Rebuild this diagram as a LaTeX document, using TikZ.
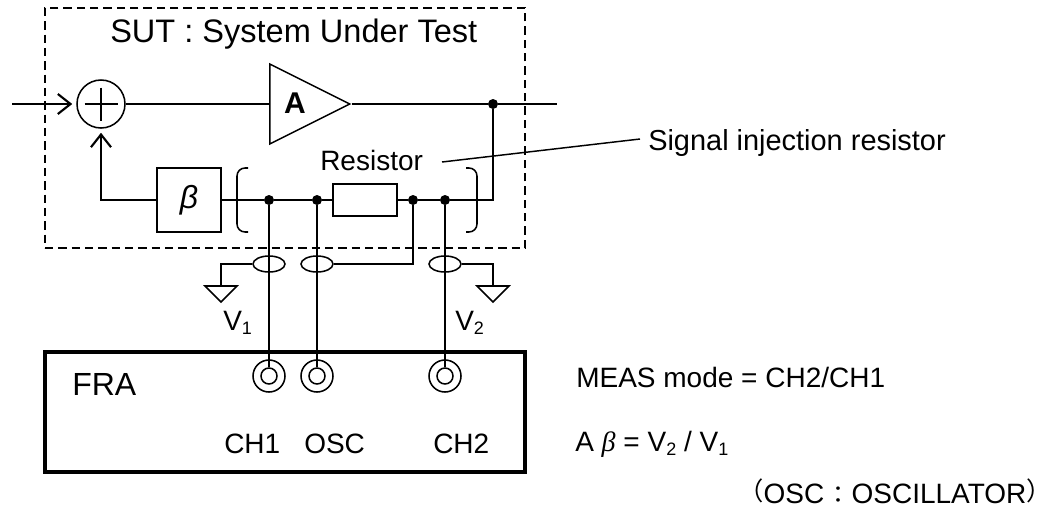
\documentclass[tikz,border=0pt]{standalone}
\usepackage{fontspec}
\setmainfont{Liberation Sans}
\newfontfamily\cjkfont{Noto Sans CJK JP}
\newfontfamily\serifgreek{Liberation Serif}
\usetikzlibrary{arrows.meta,shapes.geometric}
\newcommand\lowsub[1]{\raisebox{-3pt}{\fontsize{13.5}{13.5}\selectfont #1}}
\tikzset{
  wire/.style={line width=1.35pt},
  heavywire/.style={line width=1.8pt},
  barbtip/.style={-{Straight Barb[length=9.5pt,width=15pt,line width=1.6pt]},shorten >=3pt},
  dot/.style={circle,fill=black,draw=none,inner sep=0pt,minimum size=7.5pt},
  blockbox/.style={draw,line width=1.3pt,inner sep=0pt},
  ringshape/.style={draw,circle,line width=1.15pt,inner sep=0pt},
  probe/.style={draw,ellipse,line width=1.15pt,inner sep=0pt,minimum width=24pt,minimum height=12pt},
  ampshape/.style={draw,line width=1.15pt,isosceles triangle,isosceles triangle stretches,inner sep=0pt,minimum width=60pt,minimum height=60pt},
  gndshape/.style={draw,line width=1.15pt,isosceles triangle,isosceles triangle stretches,shape border rotate=-90,inner sep=0pt,minimum width=24pt,minimum height=12pt},
  label/.style={inner sep=0pt,anchor=base west,font=\fontsize{21}{21}\selectfont},
  biglabel/.style={inner sep=0pt,anchor=base west,font=\fontsize{24.4}{24.4}\selectfont},
  framebox/.style={draw,inner sep=0pt},
}
\begin{document}
\begin{tikzpicture}[x=0.75pt,y=-0.75pt]
\useasboundingbox (0,0) rectangle (1052,508);
% frames
\node[framebox,dashed,line width=1.15pt,dash pattern=on 6.2pt off 3.8pt,minimum width=360pt,minimum height=180pt] (sut) at (285,128) {};
\node[framebox,line width=2.6pt,minimum width=360pt,minimum height=90pt] (fra) at (285,412) {};
\node[biglabel] (suttitle) at (110,42) {SUT : System Under Test};
% forward path
\coordinate (in) at (12,104);
\coordinate (out) at (557,104);
\node[ringshape,minimum size=36pt] (sum) at (101,104) {};
\node[ampshape,anchor=lower side] (amp) at (269,104) {};
\node[inner sep=0pt,anchor=base,font=\fontsize{22.5}{22.5}\selectfont\bfseries] (ampl) at (295,113) {A};
\node[dot] (dout) at (493,104) {};
\draw[line width=0.95pt] (84.5,104) -- (117.5,104) (101,87.5) -- (101,120.5);
\draw[heavywire,barbtip] (in) -- (sum.west);
\draw[wire] (sum.east) -- (amp.lower side);
\draw[wire] (amp.apex) -- (dout) -- (out);
% feedback path
\node[blockbox,minimum size=48pt] (beta) at (189,200) {\fontsize{24}{24}\selectfont\itshape β};
\node[blockbox,minimum width=48pt,minimum height=24pt] (res) at (365,200) {};
\node[dot] (d1) at (269,200) {};
\node[dot] (d2) at (317,200) {};
\node[dot] (d3) at (413,200) {};
\node[dot] (d4) at (445,200) {};
\coordinate (corner) at (493,200);
\draw[wire] (beta.east) -- (d1) -- (d2) -- (res.west);
\draw[wire] (res.east) -- (d3) -- (d4) -- (corner) -- (dout);
\draw[heavywire,barbtip] (beta.west) -| (sum.south);
% brackets
\coordinate (bl1) at (248,168); \coordinate (bl2) at (237,168); \coordinate (bl3) at (237,232); \coordinate (bl4) at (248,232);
\coordinate (br1) at (466,168); \coordinate (br2) at (477,168); \coordinate (br3) at (477,232); \coordinate (br4) at (466,232);
\draw[line width=1.15pt,rounded corners=6pt] (bl1) -- (bl2) -- (bl3) -- (bl4);
\draw[line width=1.15pt,rounded corners=6pt] (br1) -- (br2) -- (br3) -- (br4);
% labels
\node[label] (reslabel) at (320,170) {Resistor};
\node[label,font=\fontsize{21.7}{21.7}\selectfont] (siglabel) at (648,150) {Signal injection resistor};
\coordinate (lead1) at (442,162);
\coordinate (lead2) at (640,139);
\draw[line width=1.1pt] (lead1) -- (lead2);
% jacks
\foreach \n/\x in {a/269,b/317,c/445}{
  \node[ringshape,minimum size=24pt] (jo\n) at (\x,376) {};
  \node[ringshape,minimum size=12pt] (ji\n) at (\x,376) {};
  \node[probe] (p\n) at (\x,264) {};
}
\draw[wire] (d1) -- (jia.north);
\draw[wire] (d2) -- (jib.north);
\draw[wire] (d4) -- (jic.north);
% grounds
\node[gndshape,anchor=apex] (g1) at (221,304) {};
\node[gndshape,anchor=apex] (g2) at (493,304) {};
\coordinate (pm) at (413,264);
\draw[wire] (pa.west) -| (g1.lower side);
\draw[wire] (pb.east) -- (pm) -- (d3);
\draw[wire] (pc.east) -| (g2.lower side);
\node[label] (v1) at (223,330) {V\lowsub{1}};
\node[label] (v2) at (455,330) {V\lowsub{2}};
% FRA
\node[biglabel,font=\fontsize{24}{24}\selectfont] (fralabel) at (72,395) {FRA};
\node[label] (ch1) at (224,453) {CH1};
\node[label] (osc) at (304,453) {OSC};
\node[label] (ch2) at (433,453) {CH2};
\node[label] (meas) at (576,387) {MEAS mode = CH2/CH1};
\node[label] (ab) at (575,451) {A {\serifgreek\itshape β} = V\lowsub{2} / V\lowsub{1}};
\node[label] (oscnote) at (738,503) {\raisebox{1.6pt}{\cjkfont\fontsize{19}{19}\selectfont （}OSC\hspace{1.5pt}{\cjkfont\fontsize{18}{18}\selectfont ：}\hspace{1pt}OSCILLATOR\raisebox{1.6pt}{\cjkfont\fontsize{19}{19}\selectfont ）}};
\end{tikzpicture}
\end{document}
